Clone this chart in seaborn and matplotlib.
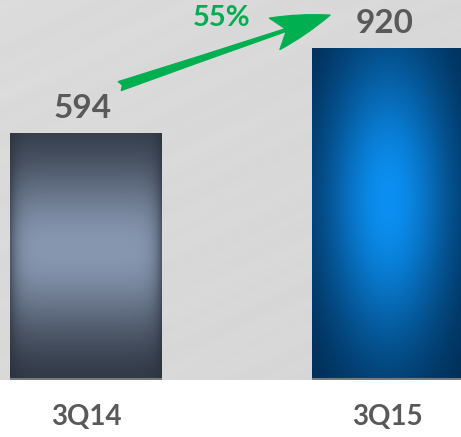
import numpy as np
import pandas as pd
import matplotlib
matplotlib.use("Agg")
import matplotlib.pyplot as plt
import seaborn as sns
from matplotlib.colors import to_rgb

# --- data ---
categories = ["3Q14", "3Q15"]
values = [594, 920]
growth_label = "55%"

# --- layout / style ---
BASELINE = -353          # the source chart does not start its bars at zero
TOP = 1104
TEXT_GREY = "#595959"
GREEN = "#00b050"
FONT = ["Lato", "DejaVu Sans"]


def blend(c0, c1, t):
    c0 = np.array(to_rgb(c0))
    c1 = np.array(to_rgb(c1))
    t = np.clip(t, 0, 1)[..., None]
    return c0 * (1 - t) + c1 * t


def grey_bar_img(h=200, w=120):
    v = np.linspace(0, 1, h)[:, None]
    u = np.linspace(-1, 1, w)[None, :]
    vert = np.exp(-((v - 0.47) / 0.36) ** 2)
    horiz = 1 - 0.6 * np.abs(u) ** 10
    t = vert * horiz
    return blend("#262d39", "#8797b0", t)


def blue_bar_img(h=200, w=120):
    v = np.linspace(0, 1, h)[:, None]
    u = np.linspace(-1, 1, w)[None, :]
    r = np.sqrt((u / 1.15) ** 2 + ((v - 0.46) / 0.62) ** 2)
    t = np.exp(-(r / 0.75) ** 2)
    return blend("#00284d", "#0b90f2", t)


def background_img(h=200, w=240):
    y = np.linspace(0, 1, h)[:, None]
    x = np.linspace(0, 1, w)[None, :]
    base = 0.848 + 0.012 * (1 - x) - 0.008 * y
    streak = 0.003 * np.sin((x * 0.6 + y) * 80) + 0.003 * np.sin((x * 0.5 + y) * 33)
    g = np.clip(base + streak, 0, 1)
    return np.dstack([g, g, g])


sns.set_theme(style="white")
plt.rcParams["font.family"] = FONT

df = pd.DataFrame({"quarter": categories, "value": values})

fig = plt.figure(figsize=(4.61, 4.37), dpi=100)
fig.patch.set_facecolor("white")
ax = fig.add_axes([0, 57 / 437, 1, 380 / 437])

sns.barplot(data=df, x="quarter", y="value", ax=ax, width=0.503,
            color="#888888", edgecolor="none", zorder=2)

ax.set_xlim(-0.285, 1.242)
ax.set_ylim(BASELINE, TOP)

# background
ax.imshow(background_img(), extent=(0, 1, 0, 1), transform=ax.transAxes,
          aspect="auto", zorder=0, interpolation="bicubic")

# gradient fills clipped to the bars
makers = [grey_bar_img, blue_bar_img]
for patch, val, make in zip(ax.patches, values, makers):
    patch.set_y(BASELINE)
    patch.set_height(val - BASELINE)
    patch.set_facecolor("none")
    x0 = patch.get_x()
    x1 = x0 + patch.get_width()
    im = ax.imshow(make(), extent=(x0, x1, BASELINE, val), aspect="auto",
                   zorder=1, interpolation="bicubic")
    im.set_clip_path(patch)
    ax.hlines(BASELINE + 3, x0, x1, color="#7a7a7a", lw=1.5, zorder=3)

    ax.annotate(f"{val}", xy=(patch.get_x() + patch.get_width() / 2 - 0.012, val),
                xytext=(0, 11), textcoords="offset points",
                ha="center", va="baseline", fontsize=24, fontweight="bold",
                color=TEXT_GREY, zorder=4)

# growth arrow
ax.annotate("", xy=(0.808, values[1] + 126), xytext=(0.112, values[0] + 180),
            arrowprops=dict(arrowstyle="fancy,head_length=1.5,head_width=0.85,tail_width=0.24",
                            color=GREEN, mutation_scale=28, shrinkA=0, shrinkB=0),
            zorder=5)
ax.text(0.45, TOP - 69, growth_label, ha="center", va="center",
        fontsize=21, fontweight="bold", color=GREEN, zorder=5)

ax.set_xlabel("")
ax.set_ylabel("")
ax.set_yticks([])
ax.tick_params(axis="x", length=0, pad=17)
for lbl in ax.get_xticklabels():
    lbl.set_fontsize(20)
    lbl.set_fontweight("bold")
    lbl.set_color(TEXT_GREY)
    lbl.set_family(FONT)
sns.despine(ax=ax, left=True, bottom=True)

fig.savefig("out.png", dpi=100)
